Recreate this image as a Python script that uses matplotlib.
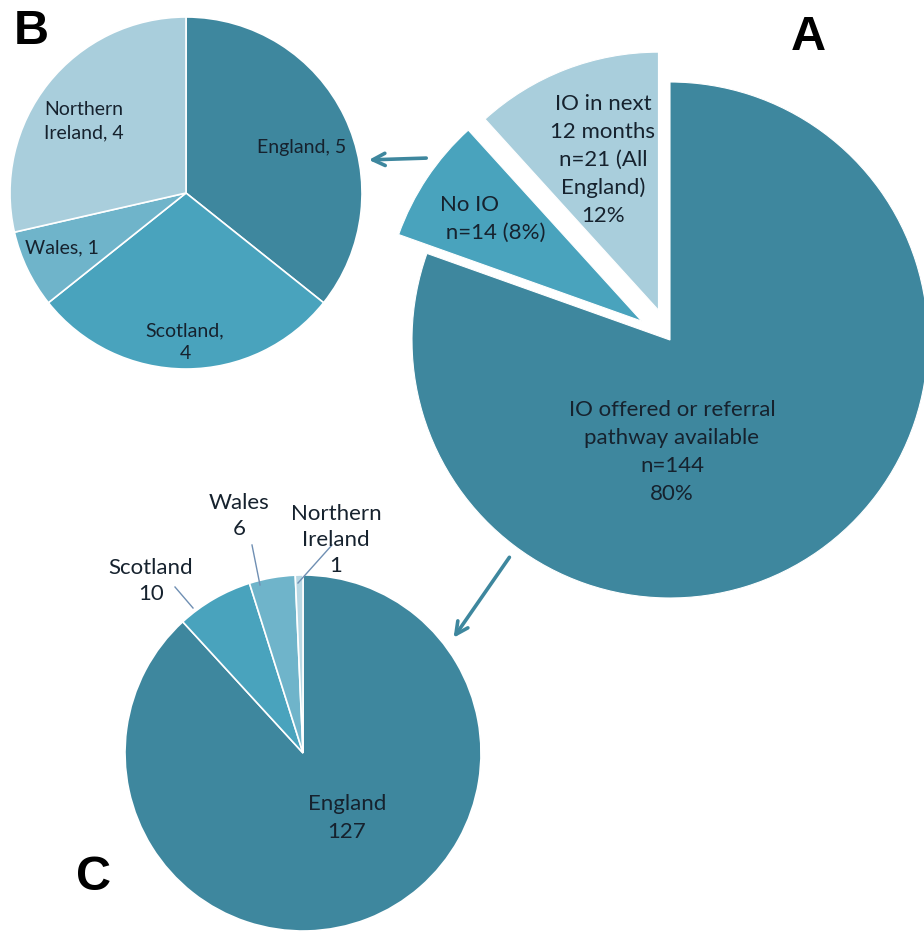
import matplotlib
matplotlib.use("Agg")
import matplotlib.pyplot as plt

# ---- data ----
a_labels = ["IO offered or referral\npathway available\nn=144\n80%",
            "No IO\n n=14 (8%)",
            "IO in next\n12 months\nn=21 (All\nEngland)\n12%"]
a_values = [144, 14, 21]

b_labels = ["England, 5", "Scotland,\n4", "Wales, 1", "Northern\nIreland, 4"]
b_values = [5, 4, 1, 4]

c_labels = ["England\n127", "Scotland\n10", "Wales\n6", "Northern\nIreland\n1"]
c_values = [127, 10, 6, 1]

# ---- style ----
DARK = "#3e879e"
MID = "#49a3bd"
MIDLIGHT = "#6fb4ca"
LIGHT = "#a9cedc"
LIGHTER = "#b8d8e4"
TEXT = "#16222e"
LEADER = "#6f8fb3"
FONT = ["Lato", "DejaVu Sans"]

W, H = 924, 936
fig = plt.figure(figsize=(W / 100, H / 100), dpi=100)
ax = fig.add_axes([0, 0, 1, 1])


def Y(y):
    return H - y


wedge = dict(edgecolor="white", linewidth=1.2)

# Panel A (explode offsets are in data units)
ax.pie(a_values, colors=[DARK, MID, LIGHT], startangle=90, counterclock=False,
       center=(670, Y(340)), radius=258, explode=[0, 34, 32],
       wedgeprops=dict(edgecolor="white", linewidth=0.8), frame=True)
ax.text(672, Y(452), a_labels[0], ha="center", va="center", fontsize=16,
        color=TEXT, family=FONT, linespacing=1.5)
ax.text(440, Y(219), a_labels[1], ha="left", va="center", fontsize=16,
        color=TEXT, family=FONT, linespacing=1.45)
ax.text(603, Y(160), a_labels[2], ha="center", va="center", fontsize=16,
        color=TEXT, family=FONT, linespacing=1.5)

# Panel B
ax.pie(b_values, colors=[DARK, MID, MIDLIGHT, LIGHT], startangle=90,
       counterclock=False, center=(186, Y(193)), radius=176,
       wedgeprops=wedge, frame=True)
b_pos = [(302, 148), (185, 342), (62, 248), (84, 121)]
for lab, (x, y) in zip(b_labels, b_pos):
    ax.text(x, Y(y), lab, ha="center", va="center", fontsize=14,
            color=TEXT, family=FONT, linespacing=1.42)

# Panel C
ax.pie(c_values, colors=[DARK, MID, MIDLIGHT, LIGHTER], startangle=90,
       counterclock=False, center=(303, Y(753)), radius=178,
       wedgeprops=wedge, frame=True)
ax.text(347, Y(818), c_labels[0], ha="center", va="center", fontsize=16,
        color=TEXT, family=FONT, linespacing=1.5)
c_lab_pos = [(151, 581), (239, 516), (336, 540)]
c_lines = [((175, 587), (193, 608)), ((252, 545), (260, 585)),
           ((332, 545), (298, 583))]
for lab, (x, y), (p0, p1) in zip(c_labels[1:], c_lab_pos, c_lines):
    ax.text(x, Y(y), lab, ha="center", va="center", fontsize=16,
            color=TEXT, family=FONT, linespacing=1.35)
    ax.plot([p0[0], p1[0]], [Y(p0[1]), Y(p1[1])], color=LEADER, lw=1.0)

# Arrows linking the breakdowns
arrow = dict(arrowstyle="->", color=DARK, lw=2.6, mutation_scale=22)
ax.annotate("", xy=(366, Y(160)), xytext=(429, Y(158)), arrowprops=arrow)
ax.annotate("", xy=(452, Y(640)), xytext=(511, Y(555)), arrowprops=arrow)

# Panel letters
for letter, (x, y) in zip("BAC", [(31, 31), (808, 37), (93, 878)]):
    ax.text(x, Y(y), letter, ha="center", va="center", fontsize=35,
            fontweight="bold", family=["Liberation Sans", "DejaVu Sans"],
            color="black")

ax.set_xlim(0, W)
ax.set_ylim(0, H)
ax.set_aspect("equal")
ax.axis("off")

fig.savefig("out.png", dpi=100, facecolor="white")
